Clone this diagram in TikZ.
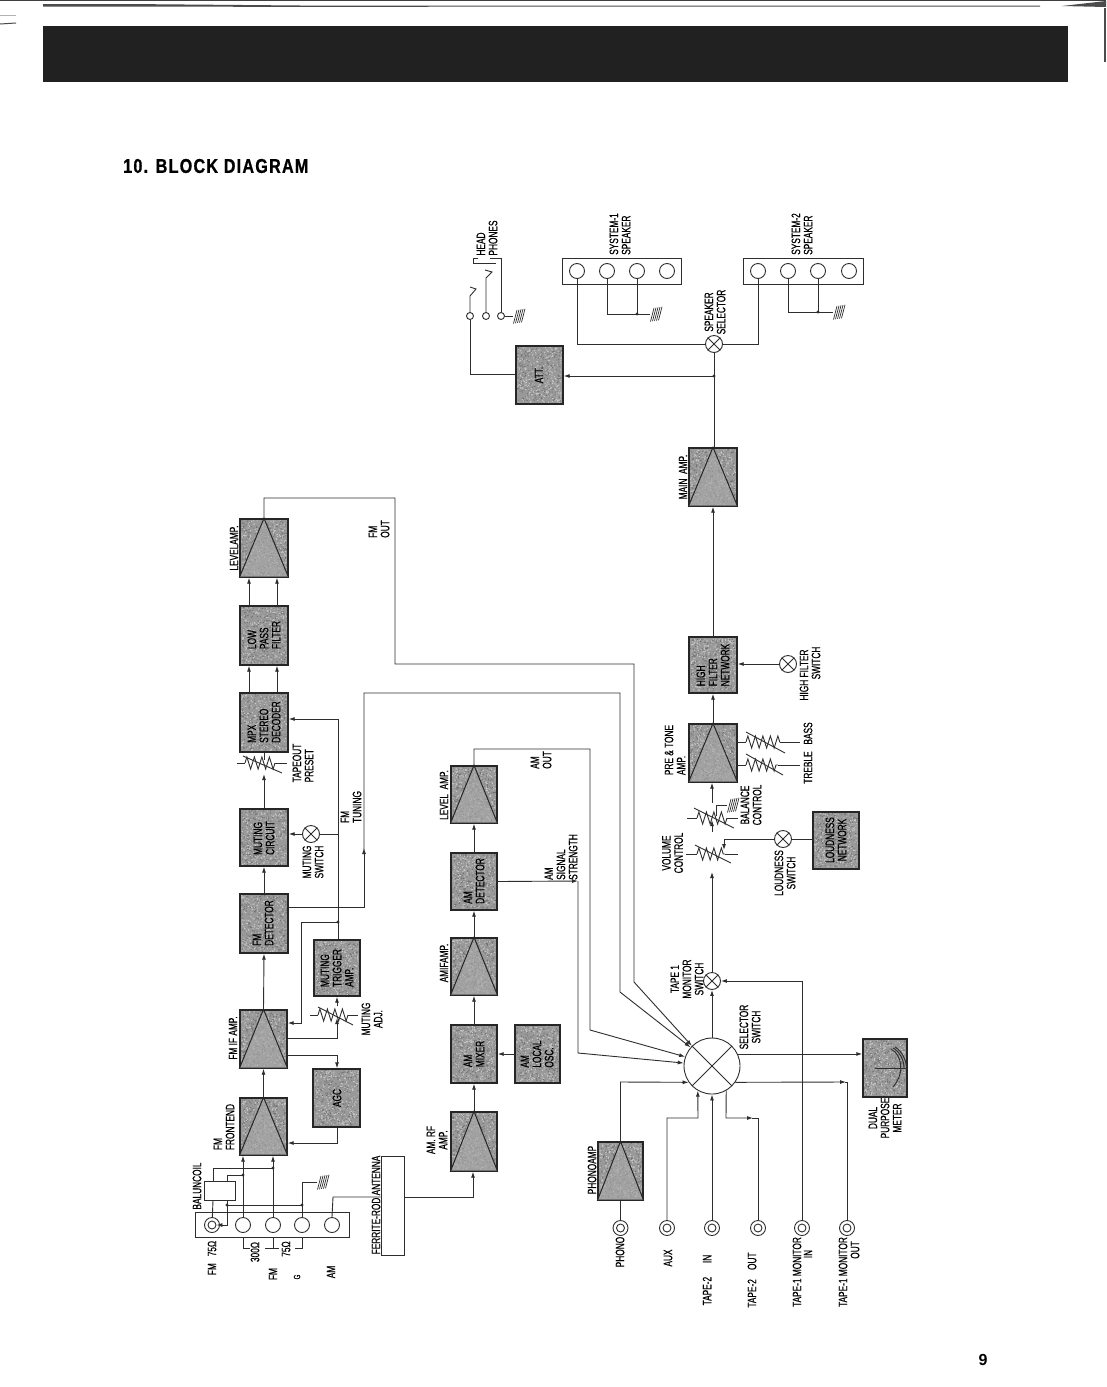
\documentclass[tikz,border=0pt]{standalone}
\usepackage{fontspec}
\setmainfont[FakeStretch=0.68,FakeBold=0.45]{Liberation Sans}
\newfontfamily\titlefont[FakeStretch=0.81,LetterSpace=6,FakeBold=0.7]{Liberation Sans Bold}
\newfontfamily\numfont{Liberation Sans Bold}
\usetikzlibrary{arrows.meta,decorations.pathmorphing,calc}
\definecolor{ink}{gray}{0.18}
\definecolor{blockfill}{gray}{0.6}
\definecolor{ampfill}{gray}{0.66}
\tikzset{
  wire/.style={draw=ink,line width=0.9pt},
  arr/.style={wire,-{Latex[length=6pt,width=4pt]}},
  blockbox/.style={draw=black!85,fill=blockfill,line width=1.4pt,inner sep=0pt,rectangle},
  lab/.style={rotate=90,font=\fontsize{12.2}{12.2}\selectfont,text=black,inner sep=0pt,align=center},
  labl/.style={lab,align=left},
  jackouter/.style={circle,draw=ink,line width=0.9pt,minimum size=15pt,inner sep=0pt},
  jackinner/.style={circle,draw=ink,line width=0.9pt,minimum size=8pt,inner sep=0pt},
  term/.style={circle,draw=ink,line width=0.9pt,minimum size=15pt,inner sep=0pt},
  swnode/.style={circle,draw=ink,line width=0.9pt,minimum size=17pt,inner sep=0pt,fill=white},
  selnode/.style={circle,draw=ink,line width=0.9pt,minimum size=56pt,inner sep=0pt,fill=white},
  strip/.style={draw=ink,line width=0.9pt,rectangle,inner sep=0pt},
  dot/.style={circle,fill=ink,minimum size=3.2pt,inner sep=0pt},
}
\newcommand{\blk}[5]{\node[blockbox,minimum width={#4-#2},minimum height={#5-#3}] (#1) at ({(#2+#4)/2},{(#3+#5)/2}) {};
  \fill[black!55] \foreach \i in {1,...,300} { ({#2+1+rnd*(#4-#2-3)},{#3+1+rnd*(#5-#3-3)}) rectangle +(1,1) };
  \fill[black!22] \foreach \i in {1,...,300} { ({#2+1+rnd*(#4-#2-3)},{#3+1+rnd*(#5-#3-3)}) rectangle +(1,1) };}
\newcommand{\boxy}[6][]{\node[strip,#1,minimum width={#5-#3},minimum height={#6-#4}] (#2) at ({(#3+#5)/2},{(#4+#6)/2}) {};}
\newcommand{\ampf}[1]{\fill[ampfill,opacity=0.6] (#1.south west)--(#1.north)--(#1.south east)--cycle;
  \draw[draw=black!85,line width=1pt] (#1.south west)--(#1.north)--(#1.south east);
  \draw[draw=black!85,line width=1.4pt] (#1.south west) rectangle (#1.north east);}
\newcommand{\swx}[3]{\node[swnode] (#1) at (#2,#3) {};
  \draw[wire] (#1.45)--(#1.225) (#1.135)--(#1.315);}
\newcommand{\jack}[3]{\node[jackouter] (#1) at (#2,#3) {}; \node[jackinner] (#1i) at (#2,#3) {};}
\newcommand{\gnd}[2]{\draw[draw=ink,line width=0.7pt] \foreach \i in {0,...,4} {
  ({#1+0.5+\i*2},{#2+7.5-\i*0.3}) -- ({#1+4+\i*2},{#2-6-\i*0.3}) };}
\newcommand{\zig}[3]{\draw[wire,decorate,decoration={zigzag,segment length=7.5pt,amplitude=6pt}] (#1,#3)--(#2,#3);}
\pgfmathsetseed{42}
\begin{document}
\begin{tikzpicture}[x=1pt,y=-1pt]
\useasboundingbox (0,0) rectangle (1106,1387);
\fill[white] (0,0) rectangle (1106,1387);
% scan edges and header bar
\fill[black!75] (0,0) rectangle (1106,1.2);
\fill[black!70] (43,4.2) -- (150,4.2) -- (300,5.5) -- (1040,5.5) -- (1040,6.5) -- (300,6.8) -- (43,6.6) -- cycle;
\fill[black!70] (1062,6) -- (1106,1) -- (1106,7) -- cycle;
\fill[black!70] (1104,8) rectangle (1106,62);
\draw[gray!60,line width=0.8pt] (0,15) -- (16,15);
\draw[black!70,line width=1pt] (0,24) -- (16,23);
\fill[black!87] (43,26) rectangle (1068,82);
\node[inner sep=0pt,anchor=west,font={\titlefont\fontsize{20}{20}\selectfont}] (title) at (123,166) {10. BLOCK DIAGRAM};
\node[inner sep=0pt,font={\numfont\fontsize{16}{16}\selectfont}] (pageno) at (983,1360) {9};

% ---------- blocks ----------
\blk{lvlfm}{240}{519}{288}{577}
\blk{lpf}{240}{606}{288}{665}
\blk{mpx}{240}{693}{288}{752}
\blk{mutc}{240}{809}{288}{866}
\blk{fmdet}{240}{894}{288}{953}
\blk{fmif}{240}{1010}{287}{1068}
\blk{front}{240}{1098}{287}{1155}
\blk{agc}{313}{1069}{360}{1127}
\blk{mtrig}{314}{940}{360}{996}
\blk{lvlam}{451}{766}{497}{823}
\blk{amdet}{451}{853}{497}{910}
\blk{amif}{451}{938}{497}{995}
\blk{ammix}{451}{1025}{497}{1083}
\blk{amrf}{451}{1112}{497}{1171}
\blk{amosc}{515}{1025}{560}{1083}
\blk{phono}{598}{1142}{643}{1200}
\blk{meter}{863}{1039}{907}{1097}
\blk{lound}{813}{812}{859}{869}
\blk{pre}{689}{724}{737}{782}
\blk{hfn}{689}{637}{737}{693}
\blk{main}{689}{448}{737}{506}
\blk{att}{516}{346}{563}{404}
\ampf{lvlfm}\ampf{fmif}\ampf{front}\ampf{lvlam}\ampf{amif}\ampf{amrf}\ampf{phono}\ampf{pre}\ampf{main}

% block texts
\node[labl] (t1) at (264,635) {LOW\\PASS\\FILTER};
\node[labl] (t2) at (264,722) {MPX\\STEREO\\DECODER};
\node[labl] (t3) at (264,838) {MUTING\\CIRCUIT};
\node[labl] (t4) at (263,923) {FM\\DETECTOR};
\node[labl] (t5) at (337,968) {MUTING\\TRIGGER\\AMP.};
\node[lab] (t6) at (337,1098) {AGC};
\node[labl] (t7) at (474,881) {AM\\DETECTOR};
\node[labl] (t8) at (474,1054) {AM\\MIXER};
\node[labl] (t9) at (537,1054) {AM\\LOCAL\\OSC.};
\node[labl] (t10) at (713,665) {HIGH\\FILTER\\NETWORK};
\node[lab] (t11) at (836,840) {LOUDNESS\\NETWORK};
\node[lab] (t12) at (539,375) {ATT.};

% ---------- FM chain ----------
\draw[arr] (front.north) -- (fmif.south);
\draw[arr] (fmif.north) -- (fmdet.south);
\draw[arr] (fmdet.north) -- (mutc.south);
\draw[arr] (mutc.north) -- (264,774);
\draw[wire] (264,760) -- (mpx.south);
\draw[arr] ([xshift=-15pt]mpx.north) -- ([xshift=-15pt]lpf.south);
\draw[arr] ([xshift=13pt]mpx.north) -- ([xshift=13pt]lpf.south);
\draw[arr] ([xshift=-15pt]lpf.north) -- ([xshift=-15pt]lvlfm.south);
\draw[arr] ([xshift=13pt]lpf.north) -- ([xshift=13pt]lvlfm.south);
% tapeout preset pot
\draw[wire] (237,763) -- (245,763);
\zig{245}{275}{763}
\draw[wire] (275,763) -- (287,763);
\draw[wire] (243,756) -- (282,773);
\node[labl] (tapeout) at (303,763) {TAPEOUT\\PRESET};
% muting
\coordinate (mj) at (338,922);
\draw[arr] (mtrig.north -| 338,0) -- (338,719) -- (mpx.east |- 0,719);
\node[dot] (mjd) at (mj) {};
\draw[arr] (mj) -- (301,922) -- (301,1023) -- (fmif.east |- 0,1023);
\swx{msw}{311}{834}
\draw[wire] (msw.east) -- (338,834);
\draw[arr] (msw.west) -- (mutc.east |- msw.west);
\node[lab] (mswl) at (313,862) {MUTING\\SWITCH};
% muting adj pot
\draw[arr] (fmif.east |- 0,1038) -- (337,1038) -- (337,1018);
\draw[wire] (310,1015) -- (318,1015);
\zig{318}{348}{1015}
\draw[wire] (348,1015) -- (358,1015);
\draw[wire] (318,1007) -- (353,1025);
\draw[arr] (337,1006) -- (mtrig.south -| 337,0);
\node[lab] (madjl) at (372,1019) {MUTING\\ADJ.};
% AGC
\draw[arr] (fmif.east |- 0,1055) -- (337,1055) -- (agc.north -| 337,0);
\draw[arr] (agc.south -| 337,0) -- (337,1143) -- (front.east |- 0,1143);
% FM labels
\node[lab] (l1) at (234,548) {LEVELAMP.};
\node[labl] (l2) at (379,529) {FM\\OUT};
\node[lab] (l3) at (233,1038) {FM IF AMP.};
\node[labl] (l4) at (224,1127) {FM\\FRONTEND};
\node[labl] (l5) at (351,807) {FM\\TUNING};
% FM out and FM tuning to the selector
\node[selnode] (sel) at (712,1066) {};
\draw[wire] (sel.45)--(sel.225) (sel.135)--(sel.315);
\draw[arr] (lvlfm.north) -- (264,498) -- (395,498) -- (395,664) -- (634,664) -- (634,982) -- (sel.135);
\draw[arr] (fmdet.east |- 0,907) -- (364,907) -- (364,848);
\draw[arr] (364,850) -- (364,693) -- (620,693) -- (620,992) -- (sel.139);

% ---------- antenna terminals ----------
\boxy[fill=white]{tstrip}{195}{1212}{349}{1237}
\jack{tfm}{212}{1225}
\node[term] (t300) at (243,1225) {};
\node[term] (t75) at (273,1225) {};
\node[term] (tg) at (302,1225) {};
\node[term] (tam) at (332,1225) {};
\boxy[fill=white]{balun}{204}{1181}{235}{1200}
\draw[arr] (t300.north) -- (front.south -| t300);
\draw[arr] (t75.north) -- (front.south -| t75);
\coordinate (bj1) at (273,1168);
\coordinate (bj2) at (243,1175);
\node[dot] at (bj1) {};
\node[dot] at (bj2) {};
\draw[wire] (balun.north -| 213,0) -- (213,1168) -- (bj1);
\draw[wire] (balun.north -| 227,0) -- (227,1175) -- (bj2);
\draw[wire] (balun.south -| 213,0) -- (tfm);
\coordinate (bj3) at (227,1205);
\coordinate (gj) at (302,1205);
\coordinate (gw) at (317,1182);
\draw[arr] (balun.south -| 227,0) -- (227,1225) -- (tfmi.east);
\node[dot] at (bj3) {};
\node[dot] at (gj) {};
\draw[wire] (bj3) -- (gj) -- (tg.north);
\draw[wire] (gj) -- (302,1182) -- (gw);
\gnd{317}{1182}
\draw[wire] (t300.south |- tstrip.south) -- (243,1248) -- (250,1248);
\draw[wire] (t75.south |- tstrip.south) -- (273,1248);
\draw[wire] (265,1248) -- (279,1248);
\draw[wire] (tg.south |- tstrip.south) -- (302,1248) -- (295,1248);
\node[lab] (a1) at (197,1186) {BALUNCOIL};
\node[lab] (a2) at (212,1258) {FM\ \ \ 75Ω};
\node[lab] (a3) at (255,1252) {300Ω};
\node[lab] (a4) at (286,1249) {75Ω};
\node[lab] (a5) at (273,1274) {FM};
\node[lab,font=\fontsize{9}{9}\selectfont] (a6) at (297,1277) {G};
\node[lab] (a7) at (331,1272) {AM};
% ferrite rod
\boxy[fill=white]{ferr}{381}{1156}{404}{1255}
\node[lab] (a8) at (376,1205) {FERRITE-ROD ANTENNA};
\draw[wire] (tam.north) -- (333,1197) -- (ferr.west |- 0,1197);
\draw[arr] (ferr.east |- 0,1197) -- (473,1197) -- (amrf.south -| 473,0);

% ---------- AM chain ----------
\draw[arr] (amrf.north) -- (ammix.south);
\draw[arr] (ammix.north) -- (amif.south);
\draw[arr] (amif.north) -- (amdet.south);
\draw[arr] (amdet.north) -- (lvlam.south);
\draw[arr] (amosc.west) -- (ammix.east);
\node[lab] (m1) at (444,795) {LEVEL\ \ AMP.};
\node[lab] (m2) at (444,963) {AMIFAMP.};
\node[lab] (m3) at (437,1140) {AM. RF\\AMP.};
\node[labl] (m4) at (541,760) {AM\\OUT};
\node[labl] (m5) at (561,857) {AM\\SIGNAL\\STRENGTH};
\draw[arr] (lvlam.north) -- (474,749) -- (590,749) -- (590,1030) -- (sel.161);
\draw[arr] (amdet.east) -- (578,881);
\draw[arr] (578,881) -- (578,1053) -- (sel.174);

% ---------- inputs ----------
\jack{jph}{620.5}{1228}
\jack{jaux}{667}{1228}
\jack{jt2i}{712}{1228}
\jack{jt2o}{758}{1228}
\jack{jt1i}{802}{1228}
\jack{jt1o}{847}{1228}
\draw[wire] (jph.north) -- (phono.south);
\draw[arr] (phono.north) -- (620.5,1082) -- (sel.215);
\draw[arr] (jaux.north) -- (667,1118) -- (698,1118) -- (sel.240);
\draw[arr] (jt2i) -- (sel.south);
\draw[arr] (sel.300) -- (726,1118) -- (753,1118);
\draw[wire] (752,1118) -- (758,1118) -- (jt2o);
\draw[arr] (sel.325) -- (846,1082);
\draw[wire] (845,1082) -- (847,1082) -- (jt1o.north);
\swx{tsw}{712}{981}
\draw[arr] (sel.north) -- (tsw.south);
\draw[arr] (jt1i.north) -- (802,981) -- (tsw.east);
\draw[arr] (sel.25) -- (meter.west |- sel.25);
\node[lab] (i1) at (620,1252) {PHONO};
\node[lab] (i2) at (668,1258) {AUX};
\node[lab] (i3) at (707,1280) {TAPE-2\ \ \ \ \ \ IN};
\node[lab] (i4) at (752,1280) {TAPE-2\ \ \ \ OUT};
\node[lab] (i5) at (797,1272) {TAPE-1 MONITOR};
\node[lab] (i6) at (808,1254) {IN};
\node[lab] (i7) at (843,1272) {TAPE-1 MONITOR};
\node[lab] (i8) at (855,1250) {OUT};
\node[lab] (i9) at (592,1170) {PHONOAMP};
\node[lab] (i10) at (750,1027) {SELECTOR\\SWITCH};
\node[lab] (i11) at (687,979) {TAPE 1\\MONITOR\\SWITCH};
\node[lab] (i12) at (885,1118) {DUAL\\PURPOSE\\METER};
% meter face
\draw[wire] (875,1068) -- (meter.east |- 0,1068);
\draw[wire] (891,1049) .. controls (901,1054) and (906,1072) .. (893,1087);
\draw[wire] (893,1048) .. controls (900,1052) and (904,1060) .. (904,1068);
\draw[wire] (895,1047) .. controls (902,1051) and (906,1060) .. (906.5,1067);

% ---------- tone section ----------
\draw[arr] (tsw.north) -- (712,872);
% volume pot
\draw[wire] (686,854) -- (697,854);
\zig{697}{725}{854}
\draw[wire] (725,854) -- (738,854);
\draw[wire] (695,845) -- (731,863);
\draw[arr] (712,832) -- (712,820);
% balance pot
\draw[wire] (687,818) -- (697,818);
\zig{697}{727}{818}
\draw[wire] (727,818) -- (738,818);
\draw[wire] (694,808) -- (734,828);
\draw[arr] (712,803) -- (pre.south -| 712,0);
\coordinate (bg) at (727,805);
\draw[wire] (716,816) -- (716,805) -- (bg);
\gnd{727}{805}
\swx{lsw}{783}{839}
\draw[arr] (lsw.west) -- (724,839) -- (724,850);
\draw[wire] (lsw.east) -- (lound.west |- lsw.east);
\node[lab] (o1) at (672.5,853) {VOLUME\\CONTROL};
\node[lab] (o2) at (751,805) {BALANCE\\CONTROL};
\node[lab] (o3) at (785,873) {LOUDNESS\\SWITCH};
\node[labl] (o4) at (675,750) {PRE \& TONE\\AMP.};
\node[lab] (o5) at (808,753) {TREBLE\ \ \ BASS};
% bass and treble pots
\draw[wire] (pre.east |- 0,742) -- (746,742);
\zig{746}{780}{742}
\draw[wire] (780,742) -- (800,742);
\draw[wire] (746,732) -- (785,753);
\draw[wire] (pre.east |- 0,765) -- (746,765);
\zig{746}{778}{765}
\draw[wire] (778,765) -- (800,765);
\draw[wire] (746,754) -- (783,775);
\draw[arr] (pre.north -| 713,0) -- (hfn.south -| 713,0);
\draw[arr] (hfn.north -| 713,0) -- (main.south -| 713,0);
\swx{hsw}{788}{664}
\draw[arr] (hsw.west) -- (hfn.east |- hsw.west);
\node[lab] (o6) at (804,675) {HIGH FILTER};
\node[lab] (o7) at (816,663) {SWITCH};
\node[lab] (o8) at (683,477) {MAIN\ \ AMP.};

% ---------- outputs ----------
\swx{ssw}{714}{344}
\coordinate (oj) at (714,376);
\draw[wire] (main.north -| 714,0) -- (ssw.south);
\node[dot] at (oj) {};
\draw[arr] (oj) -- (att.east |- oj);
\node[lab] (s1) at (715,312) {SPEAKER\\SELECTOR};
\boxy{sp1}{562}{258}{681}{284}
\boxy{sp2}{743}{258}{863}{284}
\node[term] (a1c) at (577,271) {};
\node[term] (a2c) at (607,271) {};
\node[term] (a3c) at (637,271) {};
\node[term] (a4c) at (667,271) {};
\node[term] (b1c) at (758,271) {};
\node[term] (b2c) at (788,271) {};
\node[term] (b3c) at (818,271) {};
\node[term] (b4c) at (849,271) {};
\draw[wire] (a1c.south) -- (577,344) -- (ssw.west);
\draw[wire] (b1c.south) -- (758,344) -- (ssw.east);
\coordinate (ag) at (650,314);
\coordinate (bg2) at (833,312);
\draw[wire] (a2c.south) -- (607,314) -- (ag);
\draw[wire] (a3c.south) -- (637,314);
\node[dot] at (637,314) {};
\gnd{650}{314}
\draw[wire] (b2c.south) -- (788,312) -- (bg2);
\draw[wire] (b3c.south) -- (818,312);
\node[dot] at (818,312) {};
\gnd{833}{312}
\node[labl] (s2) at (620,234) {SYSTEM-1\\SPEAKER};
\node[labl] (s3) at (802,234) {SYSTEM-2\\SPEAKER};
% headphones
\node[circle,draw=ink,line width=0.9pt,minimum size=7pt,inner sep=0pt] (hp1) at (470,316) {};
\node[circle,draw=ink,line width=0.9pt,minimum size=7pt,inner sep=0pt] (hp2) at (486,316) {};
\node[circle,draw=ink,line width=0.9pt,minimum size=7pt,inner sep=0pt] (hp3) at (501,316) {};
\draw[wire] (att.west |- 0,374) -- (470,374) -- (hp1.south);
\draw[wire] (hp1.north) -- (470,296) -- (476,289) -- (470,287);
\draw[wire] (hp2.north) -- (486,278) -- (492,272) -- (485,270);
\draw[wire] (hp3.north) -- (501,258) -- (490,258);
\draw[wire] (478,258) -- (473,258) -- (473,263) -- (496,263);
\draw[wire] (hp3.east) -- (513,316);
\gnd{513}{316}
\node[labl] (s4) at (487,238) {HEAD\\PHONES};
\end{tikzpicture}
\end{document}
